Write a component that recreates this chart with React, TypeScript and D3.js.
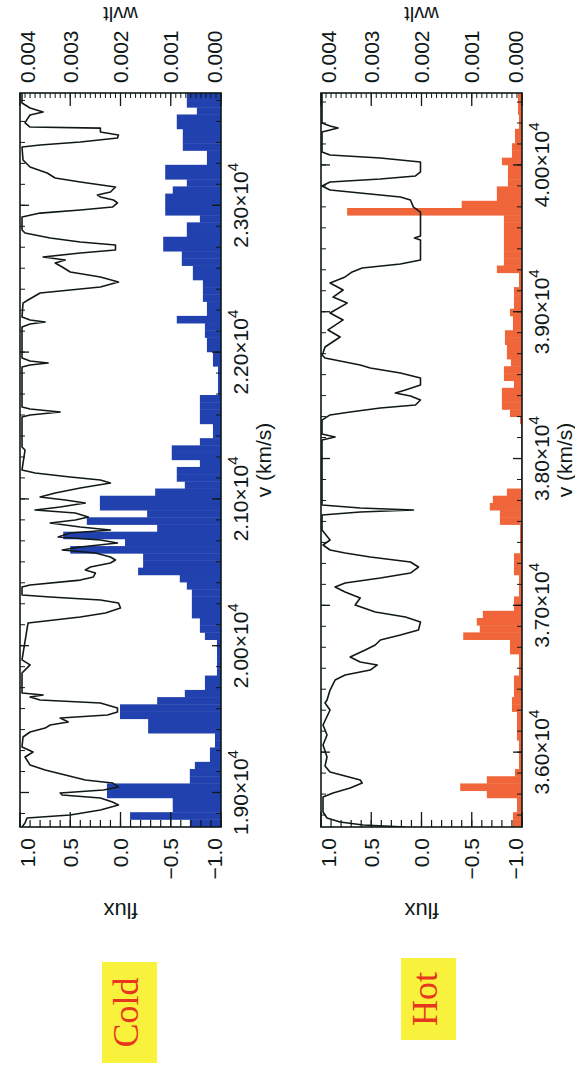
import React from 'react';
import * as d3 from 'd3';

// The figure is laid out landscape (1071 x 575) and turned a quarter turn to portrait.
const FULL_W = 1071;
const FULL_H = 575;

const binWidth = 49; // km/s per wavelet bin
const coldRange: [number, number] = [18765, 23765];
const hotRange: [number, number] = [35490, 40490];
const coldVTicks = [19000, 20000, 21000, 22000, 23000];
const hotVTicks = [36000, 37000, 38000, 39000, 40000];
const fluxTicks = [-1, -0.5, 0, 0.5, 1];
const wvltTicks = [0, 0.001, 0.002, 0.003, 0.004];

// [v (km/s), flux]
const coldSpectrum: [number, number][] = [
  [18765, 0.98], [18792, 0.95], [18826, 0.93], [18847, 0.5], [18881, 0.2], [18915, 0.02],
  [18935, 0.08], [18963, 0.2], [18983, 0.58], [18997, 0.6], [19017, 0.17], [19037, 0.02],
  [19065, 0.08], [19085, 0.35], [19119, 0.55], [19153, 0.75], [19187, 0.9], [19242, 0.95],
  [19276, 0.87], [19310, 0.98], [19378, 0.97], [19412, 0.9], [19439, 0.75], [19460, 0.7],
  [19480, 0.52], [19507, 0.6], [19528, 0.13], [19548, 0.03], [19576, 0.03], [19610, 0.2],
  [19630, 0.8], [19651, 0.9], [19664, 0.77], [19678, 0.98], [19814, 0.98], [19869, 0.9],
  [19903, 0.98], [20155, 0.92], [20196, 0.4], [20223, 0.15], [20257, 0.0], [20291, 0.02],
  [20311, 0.2], [20332, 0.7], [20345, 0.98], [20400, 0.98], [20414, 0.9], [20447, 0.4],
  [20468, 0.27], [20495, 0.25], [20516, 0.35], [20536, 0.3], [20563, 0.1], [20584, 0.05],
  [20604, 0.1], [20631, 0.25], [20652, 0.58], [20672, 0.4], [20700, 0.03], [20720, 0.2],
  [20740, 0.62], [20768, 0.5], [20788, 0.1], [20809, 0.4], [20836, 0.7], [20856, 0.45],
  [20877, 0.32], [20904, 0.45], [20924, 0.85], [20945, 0.6], [20972, 0.35], [20993, 0.55],
  [21013, 0.8], [21040, 0.65], [21074, 0.4], [21108, 0.1], [21129, 0.2], [21149, 0.5],
  [21176, 0.85], [21197, 0.98], [21333, 0.95], [21354, 0.98], [21558, 0.98], [21571, 0.9],
  [21592, 0.6], [21612, 0.9], [21626, 0.98], [21899, 0.98], [21912, 0.9], [21926, 0.72],
  [21939, 0.9], [21960, 0.98], [22171, 0.98], [22191, 0.9], [22205, 0.75], [22219, 0.9],
  [22239, 0.98], [22334, 0.97], [22355, 0.92], [22403, 0.8], [22423, 0.5], [22443, 0.2],
  [22478, 0.02], [22512, 0.2], [22546, 0.5], [22580, 0.58], [22607, 0.65], [22627, 0.55],
  [22648, 0.77], [22675, 0.4], [22695, 0.05], [22730, 0.05], [22750, 0.4], [22777, 0.7],
  [22811, 0.95], [22832, 0.98], [22920, 0.98], [22947, 0.8], [22968, 0.4], [22988, 0.08],
  [23016, 0.03], [23036, 0.07], [23057, 0.2], [23070, 0.23], [23091, 0.1], [23125, 0.05],
  [23159, 0.4], [23186, 0.65], [23220, 0.73], [23261, 0.9], [23309, 0.97], [23397, 0.98],
  [23411, 0.8], [23431, 0.4], [23458, 0.03], [23479, 0.02], [23499, 0.2], [23526, 0.2],
  [23533, 0.9], [23561, 0.95], [23595, 0.92], [23615, 0.9], [23636, 0.77], [23663, 0.9],
  [23697, 0.98], [23765, 0.98],
];

// wavelet power per 49 km/s bin, starting at coldRange[0]
const coldWvlt = [
  0.00062, 0.00181, 0.00096, 0.00096, 0.00227, 0.00227, 0.00062, 0.00062, 0.00052, 0.00022,
  0.00022, 0.00012, 0.00012, 0.00145, 0.00145, 0.00201, 0.00201, 0.00127, 0.00072, 0.00032,
  0.00032, 0.00008, 0.00008, 0.00008, 0.00008, 0.00008, 0.00032, 0.00042, 0.00042, 0.00058,
  0.00058, 0.00058, 0.00058, 0.00068, 0.00082, 0.00165, 0.00155, 0.00155, 0.003, 0.00191,
  0.00314, 0.00127, 0.00267, 0.00147, 0.00241, 0.00241, 0.00131, 0.00072, 0.00088, 0.00088,
  0.00042, 0.00098, 0.00098, 0.00042, 0.00016, 0.00016, 0.00042, 0.00042, 0.00042, 0.00042,
  0.00006, 0.00006, 0.00006, 0.00006, 0.00016, 0.00016, 0.00028, 0.00028, 0.00032, 0.00032,
  0.00088, 0.00028, 0.00028, 0.00036, 0.00036, 0.00036, 0.00056, 0.00056, 0.00078, 0.00078,
  0.00115, 0.00115, 0.00068, 0.00068, 0.00042, 0.00111, 0.00111, 0.00111, 0.00096, 0.00068,
  0.00111, 0.00111, 0.00028, 0.00028, 0.00076, 0.00076, 0.00076, 0.00088, 0.00088, 0.00048,
  0.00068, 0.00068,
];

const hotSpectrum: [number, number][] = [
  [35490, 0.16], [35504, 0.58], [35524, 0.81], [35551, 0.94], [35592, 0.98], [35694, 0.98],
  [35722, 0.88], [35756, 0.71], [35790, 0.59], [35810, 0.61], [35837, 0.76], [35865, 0.91],
  [35906, 0.96], [35967, 0.94], [36049, 0.98], [36117, 0.94], [36185, 0.98], [36287, 0.91],
  [36335, 0.96], [36355, 0.94], [36423, 0.91], [36491, 0.86], [36525, 0.76], [36559, 0.51],
  [36594, 0.44], [36614, 0.61], [36648, 0.71], [36696, 0.56], [36730, 0.46], [36764, 0.41],
  [36798, 0.21], [36832, 0.03], [36886, 0.01], [36921, 0.16], [36955, 0.46], [37002, 0.66],
  [37050, 0.61], [37091, 0.76], [37125, 0.86], [37152, 0.76], [37186, 0.41], [37220, 0.11],
  [37261, 0.03], [37295, 0.11], [37329, 0.51], [37356, 0.76], [37377, 0.91], [37411, 0.98],
  [37445, 0.91], [37479, 0.95], [37513, 0.99], [37615, 0.99], [37636, 0.61], [37649, 0.08],
  [37663, 0.61], [37683, 0.99], [38126, 0.99], [38147, 0.86], [38167, 0.99], [38262, 0.99],
  [38297, 0.91], [38317, 0.71], [38344, 0.41], [38365, 0.06], [38399, 0.01], [38426, 0.11],
  [38446, 0.26], [38467, 0.16], [38501, 0.01], [38549, 0.01], [38583, 0.21], [38617, 0.51],
  [38637, 0.61], [38658, 0.76], [38685, 0.96], [38705, 0.99], [38719, 0.98], [38760, 0.96],
  [38828, 0.81], [38876, 0.93], [38944, 0.78], [38991, 0.91], [39059, 0.74], [39100, 0.88],
  [39148, 0.78], [39196, 0.91], [39237, 0.76], [39271, 0.69], [39298, 0.59], [39325, 0.21],
  [39352, 0.01], [39489, 0.01], [39502, 0.07], [39516, 0.01], [39679, 0.01], [39713, 0.08],
  [39761, 0.11], [39782, 0.21], [39809, 0.61], [39829, 0.91], [39857, 0.99], [39884, 0.91],
  [39904, 0.41], [39925, 0.06], [39952, 0.01], [40020, 0.01], [40047, 0.41], [40068, 0.91],
  [40088, 0.99], [40224, 0.99], [40238, 0.91], [40252, 0.83], [40265, 0.91], [40286, 0.99],
  [40490, 0.99],
];

const hotWvlt = [
  0.00018, 0.00018, 0.0001, 0.0001, 0.0007, 0.00123, 0.0007, 0.00014, 0.00006, 0.00006,
  0.00006, 0.00006, 0.0001, 0.0001, 0.0001, 0.0001, 0.0002, 0.0002, 0.00016, 0.00016,
  0.00016, 0.00006, 0.00006, 0.00006, 0.00024, 0.00024, 0.00117, 0.00084, 0.0009, 0.00078,
  0.00016, 0.00016, 0.00006, 0.00006, 0.00006, 0.00016, 0.00016, 0.00016, 0.00004, 0.00004,
  0.00004, 0.00004, 0.00044, 0.00044, 0.00064, 0.00058, 0.0003, 0.00002, 0.00002, 0.00002,
  0.00002, 0.00002, 0.00002, 0.00002, 0.00002, 0.00002, 0.00004, 0.00024, 0.0004, 0.0004,
  0.0004, 0.00016, 0.00036, 0.00036, 0.00022, 0.0003, 0.0003, 0.00034, 0.00034, 0.00018,
  0.00018, 0.00024, 0.00016, 0.00016, 0.00016, 0.00006, 0.00006, 0.0005, 0.00036, 0.00036,
  0.00036, 0.00036, 0.00036, 0.00036, 0.00036, 0.00348, 0.0012, 0.0005, 0.0005, 0.00028,
  0.00028, 0.00028, 0.0004, 0.0002, 0.0002, 0.00014, 0.00014, 0.00006, 0.00006, 0.00008,
  0.00008, 0.00008,
];

const FONT = "'Liberation Sans', Arial, Helvetica, sans-serif";
const INK = '#101818';

interface PanelProps {
  id: string;
  top: number;
  domain: [number, number];
  vTicks: number[];
  spectrum: [number, number][];
  wvlt: number[];
  fill: string;
}

function Panel({ id, top, domain, vTicks, spectrum, wvlt, fill }: PanelProps) {
  const left = 244;
  const right = 978;
  const bottom = top + 201;

  const x = d3.scaleLinear().domain(domain).range([left, right]);
  const yF = d3.scaleLinear().domain([-1, 1]).range([bottom, top]);
  const yW = d3.scaleLinear().domain([0, 0.004]).range([bottom, top]);

  const line = d3.line<[number, number]>()
    .x(d => x(d[0]))
    .y(d => yF(d[1]));

  const fluxMinor = d3.range(-10, 11).map(i => i / 10);
  const wvltMinor = d3.range(0, 41).map(i => i / 10000);
  const vStep = 1000 / 7;
  const vMinor = d3.range(-14, 50)
    .map(i => vTicks[0] + i * vStep)
    .filter(v => v > domain[0] && v < domain[1]);

  const clamp = (y: number) => Math.max(top + 7, Math.min(bottom - 7, y));
  const fmtFlux = (v: number) => v.toFixed(1).replace('-', '\u2212');

  return (
    <g>
      <defs>
        <clipPath id={`clip-${id}`}>
          <rect x={left} y={top} width={right - left} height={bottom - top} />
        </clipPath>
      </defs>

      <g clipPath={`url(#clip-${id})`}>
        {wvlt.map((w, i) => {
          const v0 = domain[0] + i * binWidth;
          const x0 = x(v0);
          const x1 = x(v0 + binWidth);
          return (
            <rect key={i} x={x0} y={yW(w)} width={x1 - x0 + 0.4}
              height={yW(0) - yW(w)} fill={fill} />
          );
        })}
        <path d={line(spectrum) || ''} fill="none" stroke={INK} strokeWidth={1.6}
          strokeLinejoin="round" />
      </g>

      {/* flux ticks (left) */}
      {fluxMinor.map(f => (
        <line key={`fm${f}`} x1={left} x2={left + 7} y1={yF(f)} y2={yF(f)} stroke={INK} strokeWidth={1.2} />
      ))}
      {fluxTicks.map(f => (
        <line key={`fM${f}`} x1={left} x2={left + 15} y1={yF(f)} y2={yF(f)} stroke={INK} strokeWidth={1.3} />
      ))}
      {fluxTicks.map(f => (
        <text key={`fl${f}`} x={233} y={clamp(yF(f))} dy="0.36em" textAnchor="end"
          fontFamily={FONT} fontSize={21} fill={INK}>{fmtFlux(f)}</text>
      ))}

      {/* wvlt ticks (right) */}
      {wvltMinor.map(w => (
        <line key={`wm${w}`} x1={right} x2={right - 5} y1={yW(w)} y2={yW(w)} stroke={INK} strokeWidth={1} />
      ))}
      {wvltTicks.map(w => (
        <line key={`wM${w}`} x1={right} x2={right - 13} y1={yW(w)} y2={yW(w)} stroke={INK} strokeWidth={1.3} />
      ))}
      {wvltTicks.map(w => (
        <text key={`wl${w}`} x={988} y={clamp(yW(w))} dy="0.36em" textAnchor="start"
          fontFamily={FONT} fontSize={21} fill={INK}>{w.toFixed(3)}</text>
      ))}

      {/* velocity ticks (top and bottom) */}
      {vMinor.map(v => (
        <g key={`vm${v}`}>
          <line x1={x(v)} x2={x(v)} y1={top} y2={top + 5} stroke={INK} strokeWidth={1} />
          <line x1={x(v)} x2={x(v)} y1={bottom} y2={bottom - 5} stroke={INK} strokeWidth={1} />
        </g>
      ))}
      {vTicks.map(v => (
        <g key={`vM${v}`}>
          <line x1={x(v)} x2={x(v)} y1={top} y2={top + 9} stroke={INK} strokeWidth={1.3} />
          <line x1={x(v)} x2={x(v)} y1={bottom} y2={bottom - 9} stroke={INK} strokeWidth={1.3} />
          <text x={x(v)} y={bottom + 27} textAnchor="middle" fontFamily={FONT} fontSize={21} fill={INK}>
            {`${(v / 1e4).toFixed(2)}\u00d710`}
            <tspan dy={-10} fontSize={15}>4</tspan>
          </text>
        </g>
      ))}

      <rect x={left} y={top} width={right - left} height={bottom - top} fill="none"
        stroke={INK} strokeWidth={1.6} />

      <text x={(left + right) / 2} y={bottom + 50} textAnchor="middle" fontFamily={FONT}
        fontSize={21} fill={INK}>v (km/s)</text>
      <text transform={`translate(168,${(top + bottom) / 2}) rotate(-90)`} textAnchor="middle"
        fontFamily={FONT} fontSize={22} fill={INK}>flux</text>
      <text transform={`translate(1064,${(top + bottom) / 2}) rotate(-90)`} textAnchor="middle"
        fontFamily={FONT} fontSize={20} fill={INK}>wvlt</text>
    </g>
  );
}

function Tag({ x, y, w, label }: { x: number; y: number; w: number; label: string }) {
  return (
    <g>
      <rect x={x} y={y} width={w} height={55} fill="#f8f23c" />
      <text x={x + w / 2} y={y + 36} textAnchor="middle"
        fontFamily="'Liberation Serif', 'Times New Roman', Times, serif"
        fontSize={36} fill="#e8351e">{label}</text>
    </g>
  );
}

export default function App() {
  return (
    <svg width={FULL_H} height={FULL_W} viewBox={`0 0 ${FULL_H} ${FULL_W}`}
      style={{ position: 'absolute', left: 0, top: 0, background: '#fff' }}>
      <rect width={FULL_H} height={FULL_W} fill="#fff" />
      <g transform={`translate(0,${FULL_W}) rotate(-90)`}>
        <Tag x={8} y={102} w={101} label="Cold" />
        <Tag x={31} y={401} w={82} label="Hot" />
        <Panel id="cold" top={20} domain={coldRange} vTicks={coldVTicks}
          spectrum={coldSpectrum} wvlt={coldWvlt} fill="#2141ae" />
        <Panel id="hot" top={321} domain={hotRange} vTicks={hotVTicks}
          spectrum={hotSpectrum} wvlt={hotWvlt} fill="#f0663a" />
      </g>
    </svg>
  );
}
